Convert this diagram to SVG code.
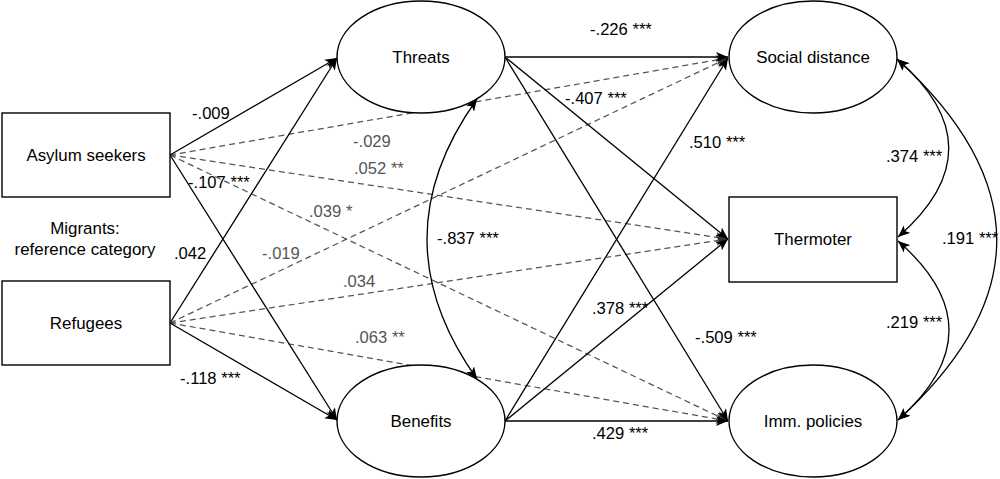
<svg xmlns="http://www.w3.org/2000/svg" width="1000" height="479" viewBox="0 0 1000 479">
<defs>
<style>
.node{fill:#fff;stroke:#000;stroke-width:1.4}
.t{font-family:"Liberation Sans",Arial,sans-serif;font-size:16.6px;fill:#000}
.n{font-size:16.9px}
.c{text-anchor:middle}
.g{fill:#555}
.s{fill:none;stroke:#000;stroke-width:1.3}
.d{fill:none;stroke:#555;stroke-width:1.25;stroke-dasharray:6 4}
</style>
<marker id="ab" markerUnits="userSpaceOnUse" viewBox="0 0 12 10" refX="12" refY="5" markerWidth="12" markerHeight="10" orient="auto-start-reverse">
<path d="M0,0 L12,5 L0,10 L3,5 z" fill="#000"/>
</marker>
<marker id="ag" markerUnits="userSpaceOnUse" viewBox="0 0 12 10" refX="12" refY="5" markerWidth="12" markerHeight="10" orient="auto">
<path d="M0,0 L12,5 L0,10 L3,5 z" fill="#333"/>
</marker>
</defs>
<rect width="1000" height="479" fill="#fff"/>
<g id="connectors">
<line class="d" x1="170" y1="155" x2="728" y2="58" marker-end="url(#ag)"/>
<line class="d" x1="170" y1="155" x2="728" y2="239" marker-end="url(#ag)"/>
<line class="d" x1="170" y1="155" x2="728" y2="421" marker-end="url(#ag)"/>
<line class="d" x1="170" y1="323" x2="728" y2="58" marker-end="url(#ag)"/>
<line class="d" x1="170" y1="323" x2="728" y2="239" marker-end="url(#ag)"/>
<line class="d" x1="170" y1="323" x2="728" y2="421" marker-end="url(#ag)"/>
<line class="s" x1="170" y1="155" x2="337" y2="58" marker-end="url(#ab)"/>
<line class="s" x1="170" y1="155" x2="337" y2="420" marker-end="url(#ab)"/>
<line class="s" x1="170" y1="323" x2="337" y2="58" marker-end="url(#ab)"/>
<line class="s" x1="170" y1="323" x2="337" y2="420" marker-end="url(#ab)"/>
<line class="s" x1="505" y1="57" x2="728" y2="57" marker-end="url(#ab)"/>
<line class="s" x1="505" y1="57" x2="728" y2="239" marker-end="url(#ab)"/>
<line class="s" x1="505" y1="57" x2="728" y2="421" marker-end="url(#ab)"/>
<line class="s" x1="505" y1="421" x2="728" y2="58" marker-end="url(#ab)"/>
<line class="s" x1="505" y1="421" x2="728" y2="239" marker-end="url(#ab)"/>
<line class="s" x1="505" y1="421" x2="728" y2="421" marker-end="url(#ab)"/>
<path class="s" d="M477,99 Q377,239 477,379" marker-start="url(#ab)" marker-end="url(#ab)"/>
<path class="s" d="M897,59 Q1000,148 898,237" marker-start="url(#ab)" marker-end="url(#ab)"/>
<path class="s" d="M898,241 Q1000,330 898,420" marker-start="url(#ab)" marker-end="url(#ab)"/>
<path class="s" d="M897,59 Q1096,240 898,420" marker-start="url(#ab)" marker-end="url(#ab)"/>
</g>
<g id="labels">
<text class="t" x="192" y="119">-.009</text>
<text class="t" x="188" y="188">-.107 ***</text>
<text class="t" x="174" y="259">.042</text>
<text class="t" x="180" y="384">-.118 ***</text>
<text class="t g" x="353" y="147">-.029</text>
<text class="t g" x="354" y="174">.052 **</text>
<text class="t g" x="309" y="217">.039 *</text>
<text class="t g" x="262" y="259">-.019</text>
<text class="t g" x="343" y="287">.034</text>
<text class="t g" x="355" y="343">.063 **</text>
<text class="t" x="590" y="35">-.226 ***</text>
<text class="t" x="565" y="104">-.407 ***</text>
<text class="t" x="689" y="148">.510 ***</text>
<text class="t" x="592" y="314">.378 ***</text>
<text class="t" x="695" y="343">-.509 ***</text>
<text class="t" x="592" y="439">.429 ***</text>
<text class="t" x="437" y="244">-.837 ***</text>
<text class="t" x="886" y="162">.374 ***</text>
<text class="t" x="886" y="328">.219 ***</text>
<text class="t" x="942" y="244">.191 ***</text>
<text class="t c n" x="85" y="234">Migrants:</text>
<text class="t c n" x="85" y="255">reference category</text>
</g>
<g id="asylum"><rect class="node" x="2" y="113" width="168" height="84"/><text class="t c n" x="86" y="161">Asylum seekers</text></g>
<g id="refugees"><rect class="node" x="2" y="281" width="168" height="84"/><text class="t c n" x="86" y="329">Refugees</text></g>
<g id="threats"><ellipse class="node" cx="421" cy="57" rx="84" ry="56"/><text class="t c n" x="421" y="63">Threats</text></g>
<g id="benefits"><ellipse class="node" cx="421" cy="421" rx="84" ry="56"/><text class="t c n" x="421" y="427">Benefits</text></g>
<g id="social"><ellipse class="node" cx="813" cy="57" rx="84" ry="56"/><text class="t c n" x="813" y="63">Social distance</text></g>
<g id="thermoter"><rect class="node" x="729" y="197" width="168" height="85"/><text class="t c n" x="813" y="245">Thermoter</text></g>
<g id="imm"><ellipse class="node" cx="813" cy="421" rx="84" ry="56"/><text class="t c n" x="813" y="427">Imm. policies</text></g>
</svg>
